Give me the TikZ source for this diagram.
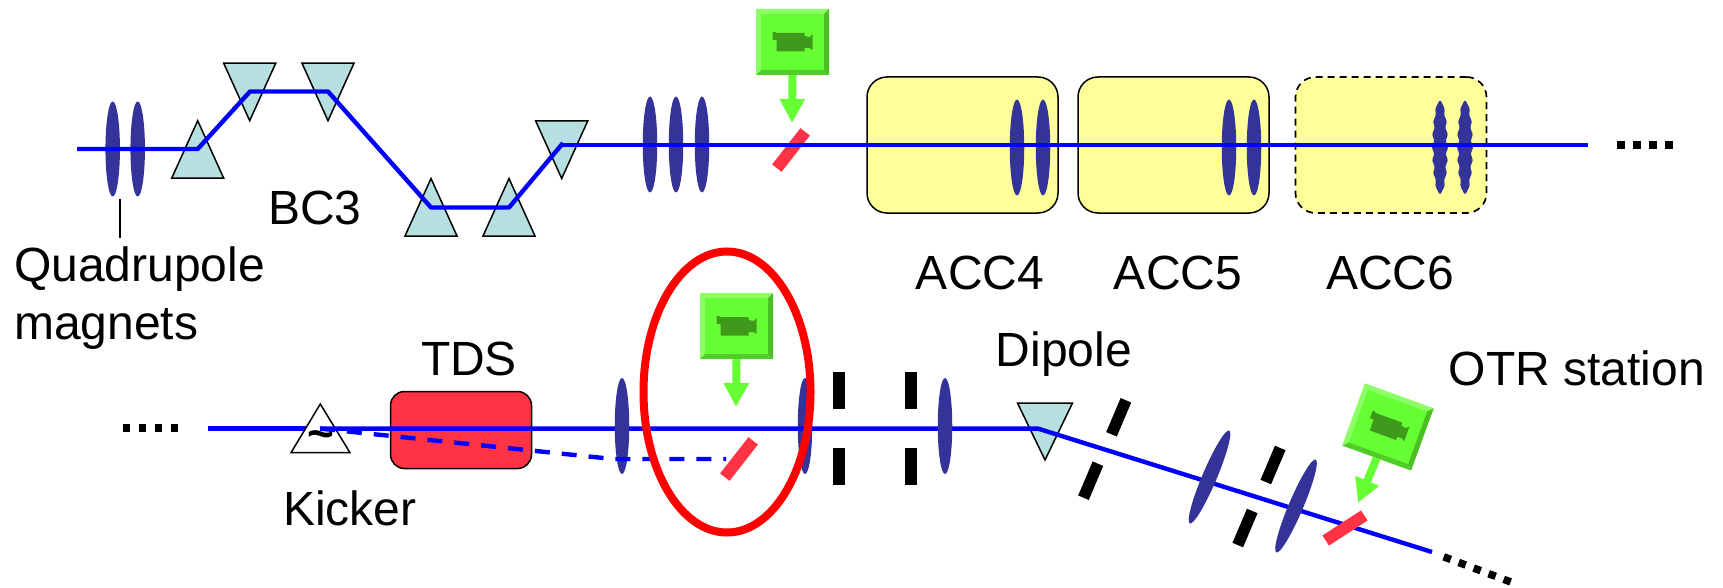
\documentclass[tikz,border=0pt]{standalone}
\usepackage{fontspec}
\setmainfont{Liberation Sans}
\usetikzlibrary{arrows.meta,shapes.geometric}
\definecolor{quadblue}{HTML}{333399}
\definecolor{beamblue}{HTML}{0000FF}
\definecolor{tricol}{HTML}{B6DFE0}
\definecolor{accyellow}{HTML}{FFFF99}
\definecolor{barred}{HTML}{FF3344}
\definecolor{camface}{HTML}{66FF33}
\definecolor{camlight}{HTML}{8CFF66}
\definecolor{camdark}{HTML}{4CBF26}
\definecolor{cammid}{HTML}{52CC29}
\definecolor{camicon}{HTML}{3F9A1B}
\tikzset{
  x=1pt,y=-1pt,
  lbl/.style={inner sep=0pt,font=\fontsize{48}{58}\selectfont,text=black},
  quad/.style={ellipse,fill=quadblue,inner sep=0pt,minimum width=14.5pt,minimum height=#1},
  quad/.default=96pt,
  wobblequad/.pic={\fill[quadblue] plot[domain=0:360,samples=181,variable=\t] ({7*cos(\t)*(1+0.13*cos(46.5*sin(\t)*27.7))},{46.5*sin(\t)}) -- cycle;},
  tri/.style={draw=black,line width=1.5pt,fill=tricol,line join=miter},
  kick/.style={draw=black,line width=1.5pt,fill=white},
  beam/.style={draw=beamblue,line width=4.4pt},
  dbeam/.style={draw=beamblue,line width=4.4pt,dash pattern=on 15pt off 12pt},
  accbox/.style={draw=black,line width=1.5pt,fill=accyellow,rounded corners=20pt,inner sep=0pt,minimum width=191pt,minimum height=136pt},
  tdsbox/.style={draw=black,line width=1.5pt,fill=barred,rounded corners=14pt,inner sep=0pt,minimum width=141pt,minimum height=77pt},
  redbar/.style={fill=barred,inner sep=0pt,minimum width=46pt,minimum height=12pt},
  slit/.style={fill=black,inner sep=0pt,minimum width=11.5pt,minimum height=37pt},
  camarrow/.style={draw=camface,line width=8pt,-{Triangle[width=24pt,length=24pt]}},
  dots/.style={draw=black,line width=7.5pt,dash pattern=on 7.5pt off 8.5pt},
  uptri/.pic={\path[tri] (0,0) -- (-26,57.5) -- (26,57.5) -- cycle;},
  downtri/.pic={\path[tri] (0,0) -- (-26,-57.5) -- (26,-57.5) -- cycle;},
  dipoletri/.pic={\path[tri] (0,0) -- (-27.5,-57) -- (27.5,-57) -- cycle;},
  camera/.pic={
    \node[transform shape,fill=camface,inner sep=0pt,minimum width=73pt,minimum height=66pt] (-box) at (0,0) {};
    \fill[camlight] (-36.5,-33) -- (36.5,-33) -- (31.5,-28) -- (-31.5,-28) -- cycle;
    \fill[camlight] (-36.5,-33) -- (-31.5,-28) -- (-31.5,28) -- (-36.5,33) -- cycle;
    \fill[camdark] (36.5,-33) -- (31.5,-28) -- (31.5,28) -- (36.5,33) -- cycle;
    \fill[cammid] (-36.5,33) -- (-31.5,28) -- (31.5,28) -- (36.5,33) -- cycle;
    \fill[camicon] (-20,-10) -- (-18,-10) -- (-16,-9) -- (12,-9) -- (12,-6) -- (17,-5) -- (20,-8) -- (20,8) -- (17,6) -- (12,6) -- (12,9.5) -- (-16,9.5) -- (-16,-2) -- (-20,-2) -- cycle;
  },
}
\begin{document}
\begin{tikzpicture}
\useasboundingbox (0,0) rectangle (1723,588);
% accelerator boxes
\node[accbox] (acc4) at (962.5,145) {};
\node[accbox] (acc5) at (1173.5,145) {};
\node[accbox,line width=1.7pt,dash pattern=on 7pt off 5pt] (acc6) at (1391,145) {};
% upper triangles
\pic at (197.7,120.7) {uptri};
\pic at (249.7,120.7) {downtri};
\pic at (328,120.7) {downtri};
\pic at (431,178.5) {uptri};
\pic at (509,178.5) {uptri};
\pic at (561.7,178.5) {downtri};
% upper quads
\node[quad=95pt] (q1) at (112.7,149) {};
\node[quad=95pt] (q2) at (137.7,149) {};
\node[quad] (q3) at (650,144.5) {};
\node[quad] (q4) at (676,144.5) {};
\node[quad] (q5) at (702,144.5) {};
\node[quad] (q6) at (1017,147.5) {};
\node[quad] (q7) at (1043,147.5) {};
\node[quad] (q8) at (1229,147.5) {};
\node[quad] (q9) at (1254,147.5) {};
\pic at (1440,147.3) {wobblequad};
\pic at (1465,147.3) {wobblequad};
% red bar upper
\node[redbar,rotate=52] (bar1) at (791,150) {};
% upper beam
\coordinate (b0) at (77,149);
\coordinate (b1) at (197.7,149);
\coordinate (b2) at (250,91.5);
\coordinate (b3) at (328,91.5);
\coordinate (b4) at (431,207.5);
\coordinate (b5) at (509,207.5);
\coordinate (b6) at (563,143);
\coordinate (b6b) at (561,145);
\coordinate (b7) at (1588,145);
\draw[beam,line join=round] (b0) -- (b1) -- (b2) -- (b3) -- (b4) -- (b5) -- (b6);
\draw[beam] (b6b) -- (b7);
% upper camera
\pic (cam1) at (792.5,42) {camera};
\coordinate (tip1) at (792,123);
\draw[camarrow] (cam1-box.south) -- (tip1);
% upper dots
\coordinate (d1a) at (1617,145);
\coordinate (d1b) at (1672.5,145);
\draw[dots] (d1a) -- (d1b);
% quad label tick
\coordinate (t1) at (120,199);
\coordinate (t2) at (120,238);
\draw[black,line width=1.4pt] (t1) -- (t2);
% labels
\node[lbl,anchor=base west] (lq1) at (14,281) {Quadrupole};
\node[lbl,anchor=base west] (lq2) at (14,339) {magnets};
\node[lbl] (lbc) at (315,208) {BC3};
\node[lbl] (l4) at (980,273) {ACC4};
\node[lbl] (l5) at (1178,273) {ACC5};
\node[lbl] (l6) at (1390,273) {ACC6};
\node[lbl] (ltds) at (469,359) {TDS};
\node[lbl] (ldip) at (1064,354) {Dipole};
\node[lbl] (lotr) at (1577,368) {OTR station};
\node[lbl] (lkick) at (350,508) {Kicker};
% lower: left beam & kicker
\coordinate (c0) at (208,428.6);
\coordinate (c1) at (320,428.6);
\coordinate (c2) at (1038,428.6);
\coordinate (c3) at (1432,552);
\coordinate (e1) at (613,459);
\coordinate (e2) at (726,459);
\draw[beam] (c0) -- (c1);
\draw[kick] (320.3,404) -- (291,452.7) -- (350,452.7) -- cycle;
\node[inner sep=0pt,anchor=base,font=\fontsize{46}{46}\selectfont\bfseries] (tld) at (321,449) {\char"7E};
% TDS
\node[tdsbox] (tds) at (461,430) {};
\node[quad] (q13) at (805,426) {};
% dipole
\pic at (1045,460) {dipoletri};
% lower beam
\draw[beam] (c1) -- (c2) -- (c3);
\node[quad] (q12) at (622,426) {};
\node[quad] (q14) at (945,426) {};
\node[quad=101pt,rotate=-23] (q15) at (1209.5,477) {};
\node[quad=101pt,rotate=-23] (q16) at (1296,506) {};
\draw[dbeam] (c1) -- (e1) -- (e2);
\node[slit] (s1) at (839,390) {};
\node[slit] (s2) at (839,466.5) {};
\node[slit] (s3) at (911,390) {};
\node[slit] (s4) at (911,466.5) {};
\node[slit,rotate=-23] (s5) at (1118.7,417.3) {};
\node[slit,rotate=-23] (s6) at (1090.7,480.7) {};
\node[slit,rotate=-23] (s7) at (1273,465) {};
\node[slit,rotate=-23] (s8) at (1245,528) {};
\node[redbar,rotate=52] (bar2) at (739,459) {};
\node[redbar,rotate=33] (bar3) at (1345,528) {};
% lower cameras
\pic (cam2) at (736.5,326) {camera};
\coordinate (tip2) at (736,407);
\draw[camarrow] (cam2-box.south) -- (tip2);
\pic[rotate=-20] (cam3) at (1388,427) {camera};
\coordinate (tip3) at (1358,503);
\draw[camarrow] (cam3-box.south) -- (tip3);
% dots
\coordinate (d2a) at (122.5,428);
\coordinate (d2b) at (178.5,428);
\draw[dots] (d2a) -- (d2b);
\coordinate (d3a) at (1443.7,556.8);
\coordinate (d3b) at (1511.3,582.2);
\draw[dots] (d3a) -- (d3b);
% red ellipse
\node[draw=red,line width=8pt,ellipse,inner sep=0pt,minimum width=167pt,minimum height=281pt] (oval) at (727,392) {};
\end{tikzpicture}
\end{document}
